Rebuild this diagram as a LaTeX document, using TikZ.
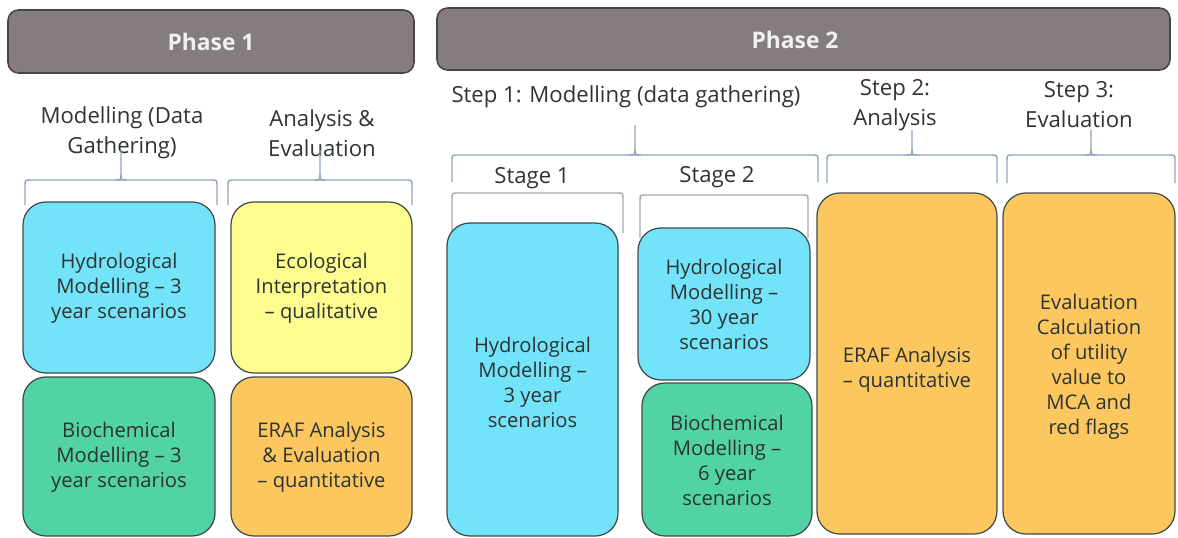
\documentclass[tikz,border=0pt]{standalone}
\usepackage{fontspec}
\setmainfont{Open Sans}
\usetikzlibrary{calc}
\definecolor{barfill}{HTML}{857D7D}
\definecolor{barline}{HTML}{4A4646}
\definecolor{hydro}{HTML}{72E3F9}
\definecolor{eco}{HTML}{FCFC8F}
\definecolor{bio}{HTML}{52D3A3}
\definecolor{eraf}{HTML}{FCC75F}
\definecolor{boxline}{HTML}{3E4A4A}
\definecolor{bracefill}{HTML}{8FA6BE}
\definecolor{stageline}{HTML}{A3AAB2}
\definecolor{ink}{HTML}{2E3333}
% bracket with its feet pointing down: left, right, line y, feet y
\def\capline[#1](#2,#3,#4,#5){\draw[#1] (#2,#5) -- (#2,#4+6) .. controls (#2,#4) .. (#2+6,#4) -- (#3-6,#4) .. controls (#3,#4) .. (#3,#4+6) -- (#3,#5);}
% same bracket with a spike in the middle up to y #6
\def\capbrace[#1](#2,#3,#4,#5)(#6){\capline[#1](#2,#3,#4,#5)
  \draw[#1] ({(#2+#3)/2-6},#4) .. controls ({(#2+#3)/2},#4) .. ({(#2+#3)/2},#4-6) -- ({(#2+#3)/2},#6);
  \draw[#1] ({(#2+#3)/2+6},#4) .. controls ({(#2+#3)/2},#4) .. ({(#2+#3)/2},#4-6);}

\begin{document}
\begin{tikzpicture}[x=0.02cm,y=-0.02cm,
    bar/.style={draw=barline, line width=0.9pt, fill=barfill, rounded corners=6pt},
    bartext/.style={text=white!94!black, font=\fontsize{13}{16}\selectfont\bfseries},
    box/.style={draw=boxline, line width=0.7pt, rounded corners=13pt},
    boxtext/.style={text=ink, align=center, font=\fontsize{11.5}{14.2}\selectfont},
    head/.style={text=ink, align=center, font=\fontsize{12.6}{17}\selectfont},
    bracket/.style={draw=bracefill, line width=0.8pt},
    stagebracket/.style={draw=stageline, line width=0.8pt}]
  \useasboundingbox (0,0) rectangle (1178,538);

  %%%%% PHASE 1 %%%%%
  \draw[bar] (8,10) rectangle (414,73);
  \node[bartext] (phaseA) at (211,42) {Phase 1};

  \node[head] (modelA) at (122,133) {Modelling (Data\\Gathering)};
  \node[head] (analysisA) at (322,133) {Analysis \&\\Evaluation};

  \capbrace[bracket](25,217,180,205)(150);
  \capbrace[bracket](228,412,180,205)(150);

  \draw[box, fill=hydro] (23,202) rectangle (215,373);
  \node[boxtext] (hydroA) at (119,288) {Hydrological\\Modelling -- 3\\year scenarios};
  \draw[box, fill=eco] (231,202) rectangle (412,373);
  \node[boxtext] (ecoA) at (321.5,288) {Ecological\\Interpretation\\-- qualitative};
  \draw[box, fill=bio] (23,377) rectangle (215,536);
  \node[boxtext] (bioA) at (119,457) {Biochemical\\Modelling -- 3\\year scenarios};
  \draw[box, fill=eraf] (231,377) rectangle (412,536);
  \node[boxtext] (erafA) at (321.5,457) {ERAF Analysis\\\& Evaluation\\-- quantitative};

  %%%%% PHASE 2 %%%%%
  \draw[bar] (437,8) rectangle (1170,70);
  \node[bartext] (phaseB) at (795,40) {Phase 2};

  \node[head] (stepA) at (626,97) {Step 1: Modelling (data gathering)};
  \node[head] (stepB) at (895,105) {Step 2:\\Analysis};
  \node[head] (stepC) at (1079,105) {Step 3:\\Evaluation};

  \capbrace[bracket](452,818,155,182)(125);
  \capbrace[bracket](827,997,155,183)(130);
  \capbrace[bracket](1007,1175,155,183)(130);

  \node[head] (stageA) at (532,178) {Stage 1};
  \node[head] (stageB) at (717,177) {Stage 2};
  \capline[stagebracket](452,623,193,233);
  \capline[stagebracket](640,808,195,238);

  \draw[box, fill=hydro] (447,223) rectangle (618,536);
  \node[boxtext] (hydroB) at (532.5,382) {Hydrological\\Modelling --\\3 year\\scenarios};
  \draw[box, fill=hydro] (638,228) rectangle (810,380);
  \node[boxtext] (hydroC) at (724,304) {Hydrological\\Modelling --\\30 year\\scenarios};
  \draw[box, fill=bio] (642,383) rectangle (812,536);
  \node[boxtext] (bioB) at (727,460) {Biochemical\\Modelling --\\6 year\\scenarios};
  \draw[box, fill=eraf] (817,193) rectangle (997,534);
  \node[boxtext] (erafB) at (907,370) {ERAF Analysis\\-- quantitative};
  \draw[box, fill=eraf] (1003,193) rectangle (1175,534);
  \node[boxtext] (evalB) at (1089,367) {Evaluation\\Calculation\\of utility\\value to\\MCA and\\red flags};
\end{tikzpicture}
\end{document}
